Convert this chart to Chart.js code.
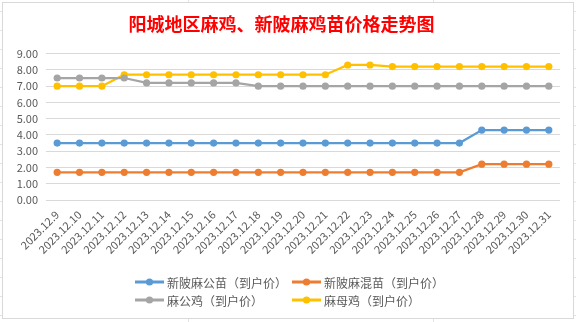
<!DOCTYPE html>
<html>
<head>
<meta charset="utf-8">
<script src="https://cdn.jsdelivr.net/npm/chart.js@4/dist/chart.umd.min.js"></script>
<style>
    html, body {
        margin: 0;
        padding: 0;
        width: 576px;
        height: 322px;
        overflow: hidden;
        background-color: #ffffff;
        /* sheet cell lines behind the chart box */
        background-image:
            repeating-linear-gradient(to bottom, transparent 0, transparent 11px, #e3e3e3 11px, #e3e3e3 12px, transparent 12px, transparent 19px),
            linear-gradient(to right, transparent 188px, #e3e3e3 188px, #e3e3e3 189px, transparent 189px, transparent 433px, #e3e3e3 433px, #e3e3e3 434px, transparent 434px);
    }
    #box {
        position: absolute;
        left: 2px;
        top: 2px;
        width: 570px;
        height: 315px;
        border: 1px solid #d9d9d9;
        background: #ffffff;
    }
    #box canvas {
        display: block;
    }
</style>
</head>
<body>
<div id="box">
    <canvas id="priceChart" width="570" height="315"></canvas>
</div>
<script>
// 日期
const dates = [
    '2023.12.9', '2023.12.10', '2023.12.11', '2023.12.12', '2023.12.13', '2023.12.14',
    '2023.12.15', '2023.12.16', '2023.12.17', '2023.12.18', '2023.12.19', '2023.12.20',
    '2023.12.21', '2023.12.22', '2023.12.23', '2023.12.24', '2023.12.25', '2023.12.26',
    '2023.12.27', '2023.12.28', '2023.12.29', '2023.12.30', '2023.12.31'
];

// 各品种到户价（元）
const maleChicks = [3.5, 3.5, 3.5, 3.5, 3.5, 3.5, 3.5, 3.5, 3.5, 3.5, 3.5, 3.5, 3.5, 3.5, 3.5, 3.5, 3.5, 3.5, 3.5, 4.3, 4.3, 4.3, 4.3];
const mixedChicks = [1.7, 1.7, 1.7, 1.7, 1.7, 1.7, 1.7, 1.7, 1.7, 1.7, 1.7, 1.7, 1.7, 1.7, 1.7, 1.7, 1.7, 1.7, 1.7, 2.2, 2.2, 2.2, 2.2];
const roosters = [7.5, 7.5, 7.5, 7.5, 7.2, 7.2, 7.2, 7.2, 7.2, 7.0, 7.0, 7.0, 7.0, 7.0, 7.0, 7.0, 7.0, 7.0, 7.0, 7.0, 7.0, 7.0, 7.0];
const hens = [7.0, 7.0, 7.0, 7.7, 7.7, 7.7, 7.7, 7.7, 7.7, 7.7, 7.7, 7.7, 7.7, 8.3, 8.3, 8.2, 8.2, 8.2, 8.2, 8.2, 8.2, 8.2, 8.2];

const seriesNames = ['新陂麻公苗（到户价）', '新陂麻混苗（到户价）', '麻公鸡（到户价）', '麻母鸡（到户价）'];
const seriesColors = ['#5b9bd5', '#ed7d31', '#a5a5a5', '#ffc000'];

const yTicks = { min: 0, max: 9, step: 1 };

const textColor = '#595959';
const gridColor = '#d9d9d9';
const cjkFont = '"Noto Sans CJK SC", "Noto Sans", sans-serif';

function makeSeries(label, data, color) {
    return {
        label: label,
        data: data,
        borderColor: color,
        backgroundColor: color,
        borderWidth: 2.25,
        pointRadius: 3.6,
        pointHoverRadius: 3.6,
        pointBorderWidth: 0,
        tension: 0
    };
}

// Excel-like 2x2 legend, columns aligned
const gridLegend = {
    id: 'gridLegend',
    afterDraw(chart) {
        const ctx = chart.ctx;
        const cols = [132, 289];
        const rows = [279, 297];
        ctx.save();
        ctx.font = '12px ' + cjkFont;
        ctx.textBaseline = 'middle';
        ctx.textAlign = 'left';
        chart.data.datasets.forEach((ds, i) => {
            const x = cols[i % 2];
            const y = rows[Math.floor(i / 2)];
            ctx.strokeStyle = ds.borderColor;
            ctx.lineWidth = 3;
            ctx.beginPath();
            ctx.moveTo(x, y);
            ctx.lineTo(x + 29, y);
            ctx.stroke();
            ctx.fillStyle = ds.borderColor;
            ctx.beginPath();
            ctx.arc(x + 14.5, y, 3.6, 0, Math.PI * 2);
            ctx.fill();
            ctx.fillStyle = textColor;
            ctx.fillText(ds.label, x + 32, y + 1);
        });
        ctx.restore();
    }
};

const chart = new Chart(document.getElementById('priceChart'), {
    type: 'line',
    data: {
        labels: dates,
        datasets: [
            makeSeries(seriesNames[0], maleChicks, seriesColors[0]),
            makeSeries(seriesNames[1], mixedChicks, seriesColors[1]),
            makeSeries(seriesNames[2], roosters, seriesColors[2]),
            makeSeries(seriesNames[3], hens, seriesColors[3])
        ]
    },
    options: {
        responsive: false,
        animation: false,
        events: [],
        layout: {
            padding: { left: 0, right: 13, top: 0, bottom: 0 }
        },
        plugins: {
            legend: { display: false },
            tooltip: { enabled: false },
            title: {
                display: true,
                text: '阳城地区麻鸡、新陂麻鸡苗价格走势图',
                color: '#ff0000',
                font: { family: cjkFont, size: 18, weight: 'bold' },
                padding: { top: 10, bottom: 19 }
            }
        },
        scales: {
            x: {
                offset: true,
                grid: { display: false },
                border: { display: false },
                ticks: {
                    color: textColor,
                    font: { family: cjkFont, size: 11 },
                    minRotation: 45,
                    maxRotation: 45,
                    autoSkip: false,
                    padding: 0
                },
                afterFit(scale) {
                    scale.height = 118;
                }
            },
            y: {
                min: yTicks.min,
                max: yTicks.max,
                grid: { color: gridColor, drawTicks: false },
                border: { display: false },
                ticks: {
                    stepSize: yTicks.step,
                    color: textColor,
                    font: { family: cjkFont, size: 11 },
                    padding: 8,
                    callback: v => Number(v).toFixed(2)
                },
                afterFit(scale) {
                    scale.width = 43;
                }
            }
        }
    },
    plugins: [gridLegend]
});
</script>
</body>
</html>
